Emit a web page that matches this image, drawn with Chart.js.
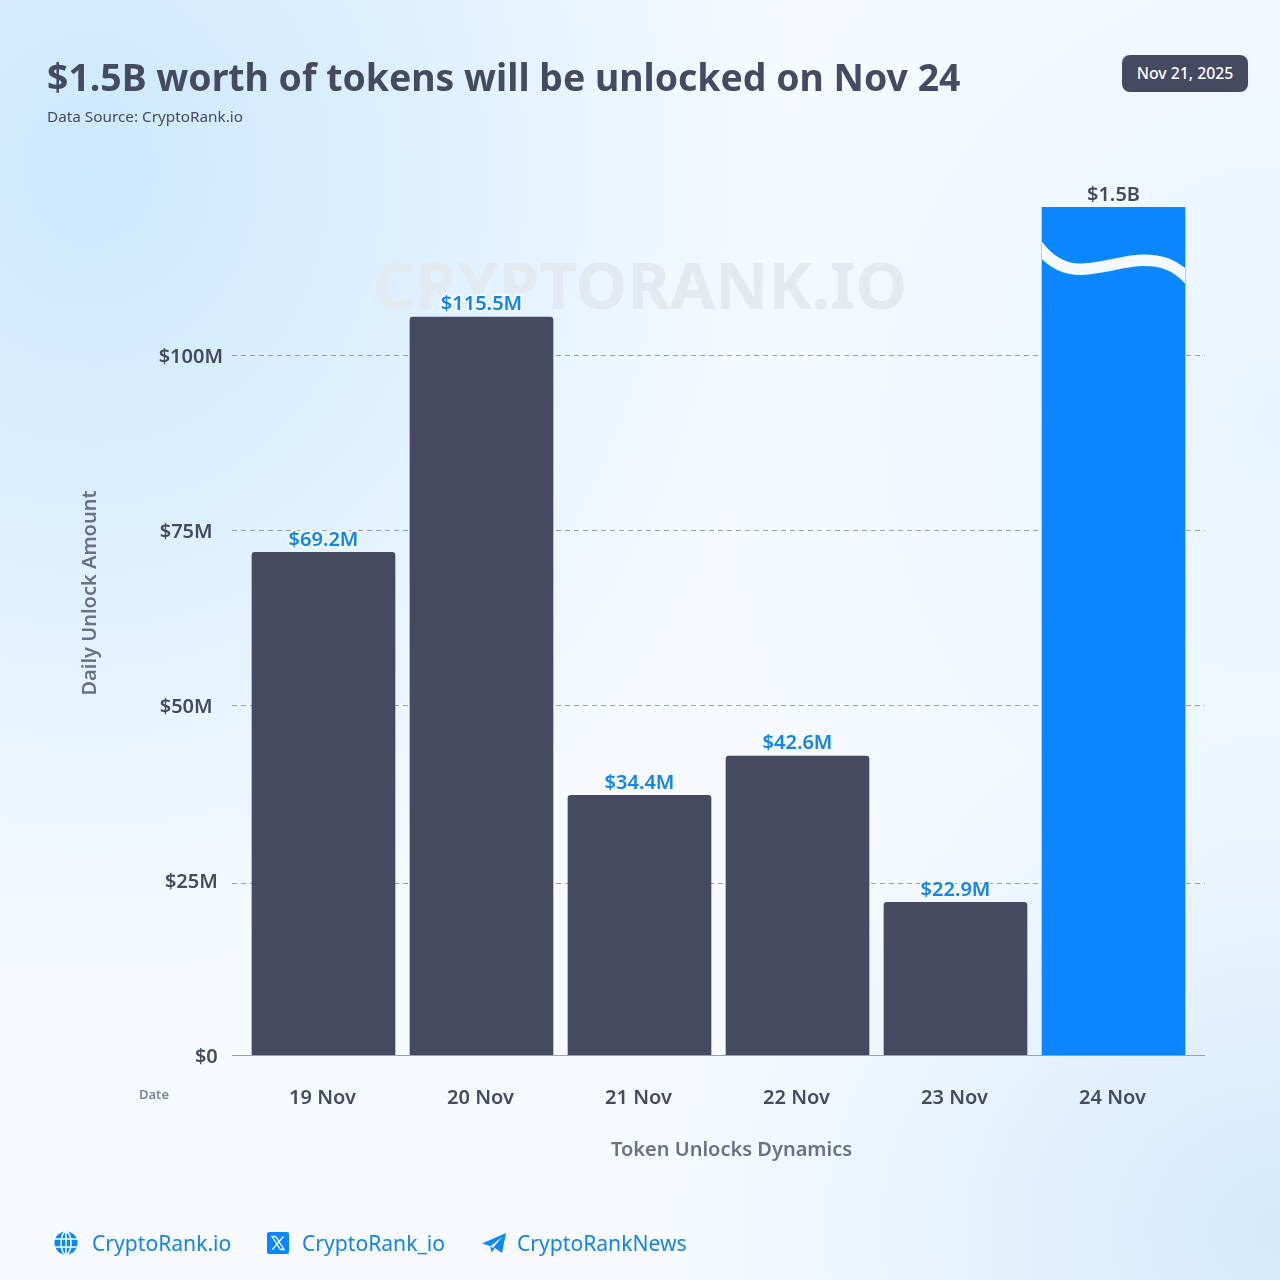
<!DOCTYPE html>
<html>
<head>
<meta charset="utf-8">
<title>Token Unlocks Dynamics</title>
<script src="https://cdn.jsdelivr.net/npm/chart.js@4/dist/chart.umd.min.js"></script>
<style>
  html, body { margin: 0; padding: 0; width: 1280px; height: 1280px; overflow: hidden; }
  body {
    position: relative;
    font-family: "Noto Sans", sans-serif;
    color: #454a61;
    background:
      radial-gradient(ellipse 700px 800px at 90px 170px, #cce8ff 0%, rgba(204,232,255,0.6) 45%, rgba(204,232,255,0) 100%),
      radial-gradient(ellipse 600px 520px at 1280px 1230px, #d4e9fc 0%, rgba(212,233,252,0) 100%),
      radial-gradient(ellipse 560px 620px at 1280px 420px, #e8f4ff 0%, rgba(232,244,255,0) 100%),
      #f6faff;
  }
  .txt { position: absolute; white-space: nowrap; line-height: 1; }
  #title { left: 47px; top: 58px; font-size: 37.4px; font-weight: 700; }
  #source { left: 47px; top: 109px; font-size: 15.3px; }
  #badge {
    left: 1122px; top: 55px; width: 126px; height: 37px; border-radius: 8px;
    background: #454a61; color: #fff; font-size: 15.8px; font-weight: 500;
    text-align: center; line-height: 37px;
  }
  #watermark { left: 373px; top: 251px; font-size: 65.3px; font-weight: 700; color: #e3eaf0; }
  #dateLabel { left: 139px; top: 1088px; font-size: 13px; font-weight: 600; color: #7d8494; }
  #xTitle { left: 611px; top: 1139px; font-size: 20px; font-weight: 600; color: #6b7184; }
  .link { top: 1232px; font-size: 21.1px; color: #1683ea; }
  .icon { position: absolute; }
  canvas { position: absolute; left: 0; top: 0; }
</style>
</head>
<body>
<div class="txt" id="watermark">CRYPTORANK.IO</div>
<canvas id="unlockChart" width="1280" height="1280"></canvas>

<div class="txt" id="title">$1.5B worth of tokens will be unlocked on Nov 24</div>
<div class="txt" id="source">Data Source: CryptoRank.io</div>
<div class="txt" id="badge">Nov 21, 2025</div>
<div class="txt" id="dateLabel">Date</div>
<div class="txt" id="xTitle">Token Unlocks Dynamics</div>

<svg class="icon" style="left:54px;top:1231px" width="24" height="24" viewBox="0 0 24 24">
  <circle cx="12" cy="12" r="11.5" fill="#0a87ff"/>
  <g fill="none" stroke="#f6faff" stroke-width="1.6">
    <ellipse cx="12" cy="12" rx="5" ry="11.5"/>
    <path d="M12 0v24M1 8h22M1 16h22"/>
  </g>
</svg>
<div class="txt link" style="left:92px">CryptoRank.io</div>

<svg class="icon" style="left:267px;top:1232px" width="22" height="22" viewBox="0 0 22 22">
  <rect width="22" height="22" rx="2" fill="#0a87ff"/>
  <path d="M5 4.5h3.6l8.4 13h-3.6zM16.4 4.5L5.4 17.5" fill="none" stroke="#f6faff" stroke-width="1.3"/>
</svg>
<div class="txt link" style="left:302px">CryptoRank_io</div>

<svg class="icon" style="left:482px;top:1232px" width="24" height="22" viewBox="0 0 24 22">
  <path d="M0 11.5L24 1l-4 20-7-5-3.5 4.5-1.5-6.5z" fill="#0a87ff"/>
  <path d="M8 14.5L20 5l-9 11" fill="#f6faff"/>
</svg>
<div class="txt link" style="left:517px">CryptoRankNews</div>

<script>
const categories = ["19 Nov", "20 Nov", "21 Nov", "22 Nov", "23 Nov", "24 Nov"];
// bar heights as drawn on the y axis (the last bar is cut by the wave, so not to scale)
const barValues = [71.8, 105.4, 37.1, 42.7, 21.8, 121.1];
const valueLabels = ["$69.2M", "$115.5M", "$34.4M", "$42.6M", "$22.9M", "$1.5B"];
const tickValues = [0, 25, 50, 75, 100];
// nbsp at the end nudges the label, the original ticks are not flush right
const tickLabels = ["$0\u00A0", "$25M\u00A0", "$50M\u00A0\u00A0", "$75M\u00A0\u00A0", "$100M"];
const gridValues = [24.6, 50, 75, 100];

const DARK = "#454a61";
const BLUE = "#0a87ff";
const LABEL_BLUE = "#1285ec";
const PAGE_BG = "#f4f9fe";

// dashed grid and baseline run a bit wider than the bars' band
const gridPlugin = {
  id: "gridLines",
  beforeDatasetsDraw(chart) {
    const { ctx, scales } = chart;
    const left = scales.x.left - 12.5;
    const right = scales.x.right + 12.5;
    ctx.save();
    ctx.lineWidth = 1;
    ctx.strokeStyle = "#9aa2af";
    ctx.setLineDash([5, 4]);
    gridValues.forEach((v) => {
      const y = Math.round(scales.y.getPixelForValue(v)) + 0.5;
      ctx.beginPath();
      ctx.moveTo(left, y);
      ctx.lineTo(right, y);
      ctx.stroke();
    });
    ctx.setLineDash([]);
    ctx.strokeStyle = "#9aa1ae";
    const y0 = Math.round(scales.y.getPixelForValue(0)) + 0.5;
    ctx.beginPath();
    ctx.moveTo(left, y0);
    ctx.lineTo(right, y0);
    ctx.stroke();
    ctx.restore();
  },
};

// white wave that marks the axis break on the last bar
const breakPlugin = {
  id: "barBreak",
  afterDatasetsDraw(chart) {
    const { ctx } = chart;
    const bars = chart.getDatasetMeta(0).data;
    const bar = bars[bars.length - 1];
    const x0 = bar.x - bar.width / 2;
    const top = bar.y;
    ctx.save();
    ctx.beginPath();
    ctx.rect(x0, top, bar.width, 200);
    ctx.clip();
    ctx.strokeStyle = PAGE_BG;
    ctx.lineWidth = 11.5;
    ctx.beginPath();
    ctx.moveTo(x0 - 6, top + 36);
    ctx.bezierCurveTo(x0 + 8, top + 56, x0 + 23, top + 62, x0 + 38, top + 62);
    ctx.bezierCurveTo(x0 + 58, top + 62, x0 + 83, top + 53, x0 + 101, top + 53);
    ctx.bezierCurveTo(x0 + 118, top + 53, x0 + 132, top + 56, x0 + 148, top + 73);
    ctx.stroke();
    ctx.restore();
  },
};

// value labels above the bars
const valueLabelPlugin = {
  id: "valueLabels",
  afterDatasetsDraw(chart) {
    const { ctx } = chart;
    ctx.save();
    ctx.font = "600 20px 'Noto Sans'";
    ctx.textAlign = "center";
    ctx.textBaseline = "middle";
    ctx.lineJoin = "round";
    chart.getDatasetMeta(0).data.forEach((bar, i) => {
      const y = bar.y - 12.5;
      ctx.strokeStyle = PAGE_BG;
      ctx.lineWidth = 4;
      ctx.strokeText(valueLabels[i], bar.x, y);
      ctx.fillStyle = i === valueLabels.length - 1 ? DARK : LABEL_BLUE;
      ctx.fillText(valueLabels[i], bar.x, y);
    });
    ctx.restore();
  },
};

new Chart("unlockChart", {
  type: "bar",
  data: {
    labels: categories,
    datasets: [
      {
        data: barValues,
        backgroundColor: barValues.map((v, i) => (i === barValues.length - 1 ? BLUE : DARK)),
        borderRadius: barValues.map((v, i) => (i === barValues.length - 1 ? 0 : 3)),
        borderSkipped: "bottom",
        barThickness: 143,
      },
    ],
  },
  plugins: [gridPlugin, breakPlugin, valueLabelPlugin],
  options: {
    responsive: false,
    animation: false,
    devicePixelRatio: 1,
    layout: { padding: { top: 131, left: 78, right: 87.5, bottom: 0 } },
    plugins: { legend: { display: false }, tooltip: { enabled: false } },
    scales: {
      x: {
        grid: { display: false, drawTicks: false },
        border: { display: false },
        ticks: {
          color: DARK,
          font: { family: "Noto Sans", size: 20, weight: "600" },
          padding: 31,
          labelOffset: -1,
          maxRotation: 0,
        },
        afterFit(scale) {
          scale.height = 225;
        },
      },
      y: {
        min: 0,
        max: 132,
        grid: { display: false, drawTicks: false },
        border: { display: false },
        afterBuildTicks(scale) {
          scale.ticks = tickValues.map((value) => ({ value }));
        },
        afterFit(scale) {
          scale.width = 166.5;
        },
        ticks: {
          color: DARK,
          font: { family: "Noto Sans", size: 20, weight: "600" },
          padding: 21.5,
          labelOffset: 2,
          callback: (value) => tickLabels[tickValues.indexOf(value)],
        },
        title: {
          display: true,
          text: "Daily Unlock Amount",
          color: "#6b7184",
          font: { family: "Noto Sans", size: 20, weight: "600" },
          padding: 0,
        },
      },
    },
  },
});
</script>
</body>
</html>
